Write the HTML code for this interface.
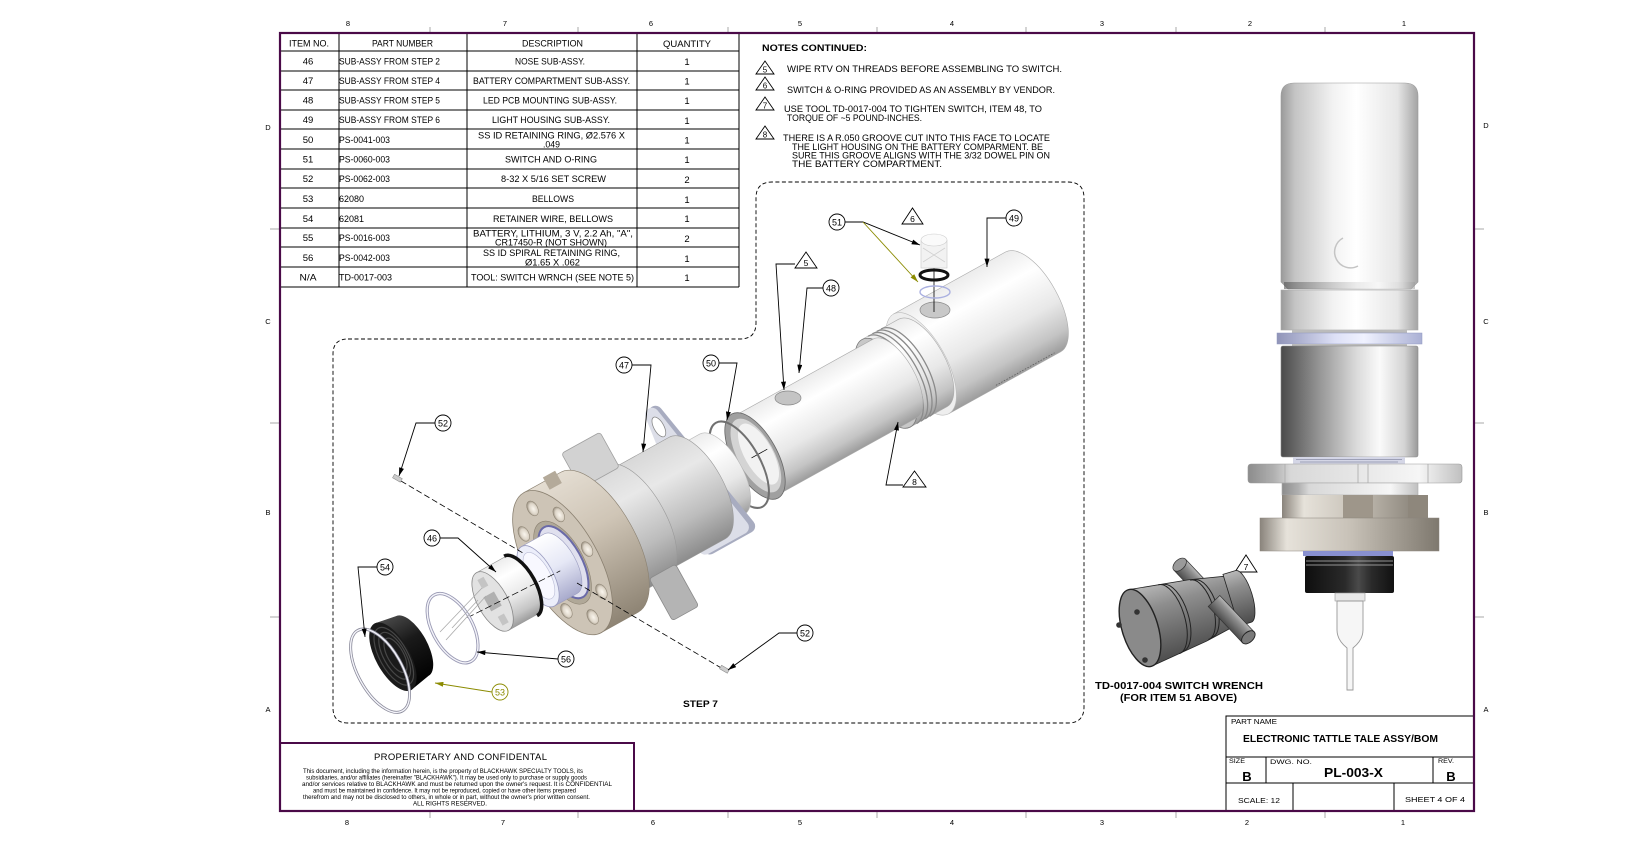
<!DOCTYPE html>
<html><head><meta charset="utf-8"><style>
html,body{margin:0;padding:0;background:#fff;}
svg{display:block;}
text{font-family:"Liberation Sans",Arial,sans-serif;fill:#000;}
.t{font-size:9.5px;}
.n{font-size:9.5px;}
.b{font-weight:bold;}
.z{font-size:7.5px;}
</style></head><body>
<svg width="1644" height="851" viewBox="0 0 1644 851" xmlns="http://www.w3.org/2000/svg">
<defs>
<linearGradient id="gCap" x1="0" y1="0" x2="1" y2="0">
<stop offset="0" stop-color="#9a9a9a"/><stop offset="0.1" stop-color="#c4c4c4"/><stop offset="0.38" stop-color="#f2f2f2"/><stop offset="0.55" stop-color="#ffffff"/><stop offset="0.85" stop-color="#e6e6e6"/><stop offset="1" stop-color="#a4a4a4"/>
</linearGradient>
<linearGradient id="gLow" x1="0" y1="0" x2="1" y2="0">
<stop offset="0" stop-color="#4a4a4a"/><stop offset="0.25" stop-color="#8e8e8e"/><stop offset="0.55" stop-color="#dadada"/><stop offset="0.72" stop-color="#fafafa"/><stop offset="0.9" stop-color="#d4d4d4"/><stop offset="1" stop-color="#9a9a9a"/>
</linearGradient>
<linearGradient id="gBlue" x1="0" y1="0" x2="1" y2="0">
<stop offset="0" stop-color="#9094b8"/><stop offset="0.4" stop-color="#dde0f6"/><stop offset="0.6" stop-color="#f0f2ff"/><stop offset="1" stop-color="#aab0d4"/>
</linearGradient>
<linearGradient id="gHex" x1="0" y1="0" x2="1" y2="0">
<stop offset="0" stop-color="#8c8c8c"/><stop offset="0.12" stop-color="#b0b0b0"/><stop offset="0.2" stop-color="#d8d8d8"/><stop offset="0.5" stop-color="#e6e6e6"/><stop offset="0.8" stop-color="#f6f6f6"/><stop offset="1" stop-color="#c0c0c0"/>
</linearGradient>
<linearGradient id="gTan" x1="0" y1="0" x2="1" y2="0">
<stop offset="0" stop-color="#8a847c"/><stop offset="0.15" stop-color="#e6e2da"/><stop offset="0.5" stop-color="#c8c2b8"/><stop offset="1" stop-color="#7e786e"/>
</linearGradient>
<linearGradient id="gBlk" x1="0" y1="0" x2="1" y2="0">
<stop offset="0" stop-color="#0e0e0e"/><stop offset="0.45" stop-color="#2a2a2a"/><stop offset="0.6" stop-color="#4a4a4a"/><stop offset="0.75" stop-color="#2a2a2a"/><stop offset="1" stop-color="#111"/>
</linearGradient>
<linearGradient id="gW" x1="0" y1="0" x2="0" y2="1">
<stop offset="0" stop-color="#ececec"/><stop offset="0.25" stop-color="#ffffff"/><stop offset="0.6" stop-color="#e8e8e8"/><stop offset="0.85" stop-color="#c4c4c4"/><stop offset="1" stop-color="#9c9c9c"/>
</linearGradient>
<linearGradient id="gG" x1="0" y1="0" x2="0" y2="1">
<stop offset="0" stop-color="#d8d8d8"/><stop offset="0.3" stop-color="#e8e8e8"/><stop offset="0.7" stop-color="#bcbcbc"/><stop offset="1" stop-color="#8c8c8c"/>
</linearGradient>
<linearGradient id="gT" x1="0" y1="0" x2="0" y2="1">
<stop offset="0" stop-color="#e4ddd2"/><stop offset="0.4" stop-color="#cfc5b6"/><stop offset="1" stop-color="#8e8474"/>
</linearGradient>
<linearGradient id="gL" x1="0" y1="0" x2="0" y2="1">
<stop offset="0" stop-color="#ffffff"/><stop offset="0.5" stop-color="#e6e8f6"/><stop offset="1" stop-color="#a8aacc"/>
</linearGradient>
<linearGradient id="gK" x1="0" y1="0" x2="0" y2="1">
<stop offset="0" stop-color="#4a4a4a"/><stop offset="0.4" stop-color="#1a1a1a"/><stop offset="1" stop-color="#000"/>
</linearGradient>
<linearGradient id="gWr" x1="0" y1="0" x2="0" y2="1">
<stop offset="0" stop-color="#b8b8b8"/><stop offset="0.3" stop-color="#8e8e8e"/><stop offset="1" stop-color="#4c4c4c"/>
</linearGradient>
<radialGradient id="gHole" cx="0.55" cy="0.55" r="0.6">
<stop offset="0" stop-color="#faf6ee"/><stop offset="0.6" stop-color="#ddd5c8"/><stop offset="1" stop-color="#8a8070"/>
</radialGradient>
<marker id="ah" viewBox="0 0 10 6" refX="10" refY="3" markerWidth="9" markerHeight="5" orient="auto" markerUnits="userSpaceOnUse"><path d="M0,0 L10,3 L0,6 z" fill="#000"/></marker>
<marker id="ao" viewBox="0 0 10 6" refX="10" refY="3" markerWidth="9" markerHeight="5" orient="auto" markerUnits="userSpaceOnUse"><path d="M0,0 L10,3 L0,6 z" fill="#8b8b00"/></marker>
</defs>

<rect width="1644" height="851" fill="#fff"/>

<!-- zone numbers / ticks -->
<g class="z" text-anchor="middle">
<text x="348" y="26">8</text><text x="505" y="26">7</text><text x="651" y="26">6</text><text x="800" y="26">5</text><text x="952" y="26">4</text><text x="1102" y="26">3</text><text x="1250" y="26">2</text><text x="1404" y="26">1</text>
<text x="347" y="825">8</text><text x="503" y="825">7</text><text x="653" y="825">6</text><text x="800" y="825">5</text><text x="952" y="825">4</text><text x="1102" y="825">3</text><text x="1247" y="825">2</text><text x="1403" y="825">1</text>
<text x="268" y="130">D</text><text x="268" y="324">C</text><text x="268" y="515">B</text><text x="268" y="712">A</text>
<text x="1486" y="128">D</text><text x="1486" y="324">C</text><text x="1486" y="515">B</text><text x="1486" y="712">A</text>
</g>
<g stroke="#a8a8a8" stroke-width="1">
<path d="M430,27V33M578,27V33M728,27V33M877,27V33M1026,27V33M1176,27V33M1325,27V33"/>
<path d="M430,811V818M578,811V818M728,811V818M877,811V818M1026,811V818M1176,811V818M1325,811V818"/>
<path d="M270,229H280M270,423H280M270,617H280M1474,229H1484M1474,423H1484M1474,617H1484"/>
</g>

<!-- BOM table -->
<g stroke="#000" stroke-width="1" fill="none">
<path d="M339,33V287M467,33V287M637,33V287M739,33V287M281,287H739"/>
<path d="M281,51H739M281,71H739M281,90H739M281,110H739M281,129H739M281,149H739M281,169H739M281,188H739M281,208H739M281,228H739M281,247H739M281,267H739"/>
</g>
<g class="t">
<text x="289" y="46.5" textLength="40" lengthAdjust="spacingAndGlyphs">ITEM NO.</text>
<text x="372" y="46.5" textLength="61" lengthAdjust="spacingAndGlyphs">PART NUMBER</text>
<text x="522" y="46.5" textLength="61" lengthAdjust="spacingAndGlyphs">DESCRIPTION</text>
<text x="663" y="47" textLength="48" lengthAdjust="spacingAndGlyphs">QUANTITY</text>
</g>
<g class="t" text-anchor="middle">
<text x="308" y="64.5">46</text><text x="308" y="84">47</text><text x="308" y="103.5">48</text><text x="308" y="123">49</text><text x="308" y="143">50</text><text x="308" y="162.5">51</text><text x="308" y="182">52</text><text x="308" y="202">53</text><text x="308" y="222">54</text><text x="308" y="241">55</text><text x="308" y="261">56</text><text x="308" y="280.5" textLength="17" lengthAdjust="spacingAndGlyphs">N/A</text>
<text x="687" y="65">1</text><text x="687" y="84.5">1</text><text x="687" y="104">1</text><text x="687" y="124">1</text><text x="687" y="143.5">1</text><text x="687" y="163">1</text><text x="687" y="183">2</text><text x="687" y="203">1</text><text x="687" y="222">1</text><text x="687" y="242">2</text><text x="687" y="262">1</text><text x="687" y="281">1</text>
</g>
<g class="t">
<text x="339" y="64.5" textLength="101" lengthAdjust="spacingAndGlyphs">SUB-ASSY FROM STEP 2</text>
<text x="339" y="84" textLength="101" lengthAdjust="spacingAndGlyphs">SUB-ASSY FROM STEP 4</text>
<text x="339" y="103.5" textLength="101" lengthAdjust="spacingAndGlyphs">SUB-ASSY FROM STEP 5</text>
<text x="339" y="123" textLength="101" lengthAdjust="spacingAndGlyphs">SUB-ASSY FROM STEP 6</text>
<text x="339" y="143" textLength="51" lengthAdjust="spacingAndGlyphs">PS-0041-003</text>
<text x="339" y="162.5" textLength="51" lengthAdjust="spacingAndGlyphs">PS-0060-003</text>
<text x="339" y="182" textLength="51" lengthAdjust="spacingAndGlyphs">PS-0062-003</text>
<text x="339" y="202" textLength="25" lengthAdjust="spacingAndGlyphs">62080</text>
<text x="339" y="222" textLength="25" lengthAdjust="spacingAndGlyphs">62081</text>
<text x="339" y="241" textLength="51" lengthAdjust="spacingAndGlyphs">PS-0016-003</text>
<text x="339" y="261" textLength="51" lengthAdjust="spacingAndGlyphs">PS-0042-003</text>
<text x="339" y="280.5" textLength="53" lengthAdjust="spacingAndGlyphs">TD-0017-003</text>
<text x="515" y="64.5" textLength="70" lengthAdjust="spacingAndGlyphs">NOSE SUB-ASSY.</text>
<text x="473" y="84" textLength="157" lengthAdjust="spacingAndGlyphs">BATTERY COMPARTMENT SUB-ASSY.</text>
<text x="483" y="103.5" textLength="134" lengthAdjust="spacingAndGlyphs">LED PCB MOUNTING SUB-ASSY.</text>
<text x="492" y="123" textLength="118" lengthAdjust="spacingAndGlyphs">LIGHT HOUSING SUB-ASSY.</text>
<text x="478" y="138.5" textLength="147" lengthAdjust="spacingAndGlyphs">SS ID RETAINING RING,  Ø2.576 X</text>
<text x="543" y="147.5" textLength="17" lengthAdjust="spacingAndGlyphs">.049</text>
<text x="505" y="162.5" textLength="92" lengthAdjust="spacingAndGlyphs">SWITCH AND O-RING</text>
<text x="501" y="182" textLength="105" lengthAdjust="spacingAndGlyphs">8-32 X 5/16 SET SCREW</text>
<text x="532" y="202" textLength="42" lengthAdjust="spacingAndGlyphs">BELLOWS</text>
<text x="493" y="222" textLength="120" lengthAdjust="spacingAndGlyphs">RETAINER WIRE, BELLOWS</text>
<text x="473" y="236.5" textLength="160" lengthAdjust="spacingAndGlyphs">BATTERY, LITHIUM, 3 V, 2.2 Ah, "A",</text>
<text x="495" y="245.5" textLength="112" lengthAdjust="spacingAndGlyphs">CR17450-R (NOT SHOWN)</text>
<text x="483" y="256" textLength="137" lengthAdjust="spacingAndGlyphs">SS ID SPIRAL RETAINING RING,</text>
<text x="525" y="265.5" textLength="55" lengthAdjust="spacingAndGlyphs">Ø1.65 X .062</text>
<text x="471" y="280.5" textLength="163" lengthAdjust="spacingAndGlyphs">TOOL: SWITCH WRNCH (SEE NOTE 5)</text>
</g>

<!-- notes -->
<g class="n">
<text x="762" y="51" class="b" textLength="105" lengthAdjust="spacingAndGlyphs">NOTES CONTINUED:</text>
<text x="787" y="72" textLength="275" lengthAdjust="spacingAndGlyphs">WIPE RTV ON THREADS BEFORE ASSEMBLING TO SWITCH.</text>
<text x="787" y="93" textLength="268" lengthAdjust="spacingAndGlyphs">SWITCH &amp; O-RING  PROVIDED AS AN ASSEMBLY BY VENDOR.</text>
<text x="784" y="112" textLength="258" lengthAdjust="spacingAndGlyphs">USE TOOL TD-0017-004 TO TIGHTEN SWITCH, ITEM 48, TO</text>
<text x="787" y="121" textLength="135" lengthAdjust="spacingAndGlyphs">TORQUE OF ~5 POUND-INCHES.</text>
<text x="783" y="141" textLength="267" lengthAdjust="spacingAndGlyphs">THERE IS A R.050 GROOVE CUT INTO THIS FACE TO LOCATE</text>
<text x="792" y="150" textLength="251" lengthAdjust="spacingAndGlyphs">THE LIGHT HOUSING ON THE BATTERY COMPARMENT.  BE</text>
<text x="792" y="158.5" textLength="258" lengthAdjust="spacingAndGlyphs">SURE THIS GROOVE ALIGNS WITH THE 3/32 DOWEL PIN ON</text>
<text x="792" y="167" textLength="150" lengthAdjust="spacingAndGlyphs">THE BATTERY COMPARTMENT.</text>
</g>
<g fill="none" stroke="#000" stroke-width="0.9">
<path d="M756,74 L765,61 L774,74 Z"/>
<path d="M756,90 L765,77 L774,90 Z"/>
<path d="M756,110 L765,97 L774,110 Z"/>
<path d="M756,139 L765,126 L774,139 Z"/>
</g>
<g font-size="8" text-anchor="middle">
<text x="765" y="72.5">5</text><text x="765" y="88.5">6</text><text x="765" y="108.5">7</text><text x="765" y="137.5">8</text>
</g>

<!-- dashed step boundary -->
<path d="M348,339 L740,339 Q756,339 756,323 L756,198 Q756,182 772,182 L1068,182 Q1084,182 1084,198 L1084,707 Q1084,723 1068,723 L348,723 Q333,723 333,708 L333,354 Q333,339 348,339 Z" fill="none" stroke="#000" stroke-width="0.9" stroke-dasharray="4 2.5"/>

<!-- exploded assembly -->
<g transform="translate(755,456) rotate(-29)">
 <!-- housing 49 -->
 <path d="M190,-57 L318,-57 A25,57 0 0 1 318,57 L190,57 Z" fill="url(#gW)" stroke="#aaa" stroke-width="0.6"/>
 <ellipse cx="190" cy="0" rx="25" ry="57" fill="#eeeeee" stroke="#bbb" stroke-width="0.6"/>
 <line x1="245" y1="55" x2="312" y2="55" stroke="#555" stroke-width="0.7" stroke-dasharray="1.5 1.5"/>
 <path d="M150,-50 L192,-50 A22,50 0 0 1 192,50 L150,50 Z" fill="url(#gW)" stroke="#aaa" stroke-width="0.6"/>
 <g fill="none" stroke="#8a8a8a" stroke-width="1.3">
  <path d="M157,-50 A22,50 0 0 1 157,50"/><path d="M162,-50 A22,50 0 0 1 162,50"/><path d="M167,-50 A22,50 0 0 1 167,50"/><path d="M172,-50 A22,50 0 0 1 172,50"/>
 </g>
 <ellipse cx="150" cy="0" rx="22" ry="50" fill="#c8c8c8" stroke="#777" stroke-width="0.8"/>
 <ellipse cx="151" cy="0" rx="18" ry="44" fill="#efefef" stroke="#999" stroke-width="0.6"/>
 <!-- tube 48 -->
 <path d="M0,-45 L160,-45 A20,45 0 0 1 160,45 L0,45 Z" fill="url(#gW)" stroke="#aaa" stroke-width="0.6"/>
 <ellipse cx="0" cy="0" rx="22" ry="48" fill="#a0a0a0" stroke="#666" stroke-width="0.8"/>
 <ellipse cx="1" cy="0" rx="18" ry="41" fill="#d4d4d4"/>
 <ellipse cx="4" cy="0" rx="14" ry="34" fill="#f2f2f2"/>
 <line x1="-4" y1="0" x2="14" y2="0" stroke="#000" stroke-width="0.7"/>
 <!-- ring 50 -->
 <ellipse cx="-18" cy="0" rx="21" ry="48" fill="none" stroke="#707070" stroke-width="2"/>
 <!-- collar -->
 <path d="M-62,-46 L-38,-46 A21,46 0 0 1 -38,46 L-62,46 Z" fill="url(#gW)" stroke="#bbb" stroke-width="0.6"/>
 <!-- plate -->
 <path d="M-66,-86 L-40,58 L-84,58 Z" fill="#a8acc0" stroke="#a8acc0" stroke-width="14" stroke-linejoin="round"/>
 <path d="M-70,-86 L-46,56 L-88,56 Z" fill="#dcdee8" stroke="#dcdee8" stroke-width="14" stroke-linejoin="round"/>
 <ellipse cx="-70" cy="-72" rx="5" ry="11" fill="#fff" stroke="#888" stroke-width="0.8"/>
 <!-- body 47 -->
 <path d="M-140,-58 L-66,-58 A26,58 0 0 1 -66,58 L-140,58 Z" fill="url(#gG)" stroke="#999" stroke-width="0.6"/>
 <!-- lug ring -->
 <path d="M-178,-64 L-135,-64 A29,64 0 0 1 -135,64 L-178,64 Z" fill="url(#gG)" stroke="#999" stroke-width="0.6"/>
 <rect x="-168" y="-96" width="44" height="40" rx="3" fill="#d2d2d2" stroke="#a0a0a0" stroke-width="0.8"/>
 <rect x="-152" y="56" width="30" height="48" rx="3" fill="#b4b4b4" stroke="#8a8a8a" stroke-width="0.8"/>
 <!-- tan nut -->
 <path d="M-220,-80 L-178,-80 A36,80 0 0 1 -178,80 L-220,80 Z" fill="url(#gT)" stroke="#8a8070" stroke-width="0.6"/>
 <rect x="-196" y="-84" width="14" height="14" fill="#b4aa9a"/>
 <ellipse cx="-220" cy="0" rx="36" ry="80" fill="#cdc4b6" stroke="#8a8070" stroke-width="0.8"/>
 <g fill="url(#gHole)" stroke="#8a8070" stroke-width="0.5">
  <ellipse cx="-192" cy="0" rx="5" ry="8"/><ellipse cx="-200" cy="44" rx="5" ry="8"/><ellipse cx="-220" cy="62" rx="5" ry="8"/><ellipse cx="-240" cy="44" rx="5" ry="8"/>
  <ellipse cx="-248" cy="0" rx="5" ry="8"/><ellipse cx="-240" cy="-44" rx="5" ry="8"/><ellipse cx="-220" cy="-62" rx="5" ry="8"/><ellipse cx="-200" cy="-44" rx="5" ry="8"/>
 </g>
 <ellipse cx="-220" cy="0" rx="21" ry="46" fill="#b0a898" stroke="#8a8070" stroke-width="0.6"/>
 <ellipse cx="-219" cy="0" rx="18" ry="40" fill="#e0e0ee" stroke="#6a6aa8" stroke-width="2"/>
 <!-- protrusion -->
 <path d="M-248,-34 L-222,-34 A15,34 0 0 1 -222,34 L-248,34 Z" fill="url(#gL)" stroke="#9a9cc0" stroke-width="0.6"/>
 <ellipse cx="-248" cy="0" rx="15" ry="34" fill="#eceefa" stroke="#9a9cc0" stroke-width="0.8"/>
 <ellipse cx="-247" cy="0" rx="11" ry="26" fill="#f8f8ff" stroke="#b8bad4" stroke-width="0.6"/>
 <!-- nose 46 -->
 <path d="M-300,-33 L-268,-33 A15,33 0 0 1 -268,33 L-300,33 Z" fill="url(#gW)" stroke="#999" stroke-width="0.6"/>
 <path d="M-268,-34 A15,34 0 0 1 -268,34" fill="none" stroke="#111" stroke-width="3.5"/>
 <ellipse cx="-300" cy="0" rx="15" ry="33" fill="#e2e2e2" stroke="#888" stroke-width="0.8"/>
 <rect x="-306" y="-8" width="12" height="16" fill="#b0b0b0"/>
 <rect x="-303" y="-26" width="7" height="10" fill="#c4c4c4"/>
 <rect x="-303" y="16" width="7" height="10" fill="#c4c4c4"/>
 <!-- axis line -->
 <line x1="-330" y1="2" x2="-226" y2="6" stroke="#000" stroke-width="0.7" stroke-dasharray="7 3"/>
 <!-- ring 56 -->
 <ellipse cx="-348" cy="4" rx="20" ry="38" fill="none" stroke="#9a9ab4" stroke-width="3.2"/>
 <ellipse cx="-348" cy="4" rx="20" ry="38" fill="none" stroke="#f4f4fa" stroke-width="1.4"/>
 <!-- bellows 53 -->
 <path d="M-414,-38 L-392,-34 A15,34 0 0 1 -392,34 L-414,38 Z" fill="url(#gK)"/>
 <ellipse cx="-414" cy="0" rx="17" ry="38" fill="#1a1a1a"/>
 <g fill="none" stroke="#464646" stroke-width="1.2">
  <ellipse cx="-413" cy="0" rx="14" ry="32"/><ellipse cx="-412" cy="0" rx="11" ry="26"/><ellipse cx="-411" cy="0" rx="8" ry="19"/>
 </g>
 <!-- ring 54 -->
 <ellipse cx="-432" cy="6" rx="22" ry="46" fill="none" stroke="#8a8a9a" stroke-width="3"/>
 <ellipse cx="-432" cy="6" rx="22" ry="46" fill="none" stroke="#f4f4fa" stroke-width="1.4"/>
</g>

<!-- set-screw dashed line (visible segments) -->
<line x1="401" y1="481" x2="523" y2="553" stroke="#000" stroke-width="0.8" stroke-dasharray="6 3"/>
<line x1="577" y1="583" x2="723" y2="669" stroke="#000" stroke-width="0.8" stroke-dasharray="6 3"/>

<!-- wires from nose -->
<g stroke="#aaa" stroke-width="0.8">
<line x1="482" y1="588" x2="440" y2="632"/><line x1="486" y1="596" x2="446" y2="640"/><line x1="478" y1="600" x2="452" y2="628"/>
</g>

<!-- holes on tube / housing -->
<ellipse cx="788" cy="398" rx="13" ry="7" fill="#c4c4c4" stroke="#888" stroke-width="0.7"/>
<ellipse cx="935" cy="310" rx="15" ry="8" fill="#c8c8c8" stroke="#888" stroke-width="0.7"/>

<!-- switch 51 -->
<line x1="934" y1="262" x2="934" y2="312" stroke="#000" stroke-width="0.8"/>
<rect x="921" y="240" width="26" height="28" fill="#f2f2f2" stroke="#c8c8c8" stroke-width="0.6"/>
<ellipse cx="934" cy="240" rx="13" ry="6" fill="#fafafa" stroke="#ccc" stroke-width="0.6"/>
<path d="M923,248 L945,262 M945,248 L923,262" stroke="#d0d0d0" stroke-width="0.8"/>
<ellipse cx="934" cy="275" rx="14" ry="5" fill="none" stroke="#111" stroke-width="3"/>
<ellipse cx="935" cy="292" rx="15" ry="6" fill="none" stroke="#aab0e0" stroke-width="1.4"/>

<!-- set screws -->
<rect x="393" y="476" width="9" height="4" fill="#ccc" stroke="#888" stroke-width="0.5" transform="rotate(30 397 478)"/>
<rect x="720" y="667" width="9" height="4" fill="#ccc" stroke="#888" stroke-width="0.5" transform="rotate(30 724 669)"/>

<!-- leaders -->
<g fill="none" stroke="#000" stroke-width="0.9">
<polyline points="632,365 651,365 643,452" marker-end="url(#ah)"/>
<polyline points="719,363 737,363 727,420" marker-end="url(#ah)"/>
<polyline points="435,423 416,423 399,476" marker-end="url(#ah)"/>
<polyline points="440,538 458,538 496,572" marker-end="url(#ah)"/>
<polyline points="377,567 358,567 365,637" marker-end="url(#ah)"/>
<polyline points="558,659 477,652" marker-end="url(#ah)"/>
<polyline points="797,633 779,633 728,670" marker-end="url(#ah)"/>
<polyline points="845,222 863,222 920,245" marker-end="url(#ah)"/>
<polyline points="1006,218 987,218 987,267" marker-end="url(#ah)"/>
<polyline points="795,264 776,264 784,390" marker-end="url(#ah)"/>
<polyline points="823,288 807,288 799,373" marker-end="url(#ah)"/>
<polyline points="903,485 886,485 898,422" marker-end="url(#ah)"/>
</g>
<g fill="none" stroke="#8b8b00" stroke-width="0.9">
<polyline points="863,222 918,282" marker-end="url(#ao)"/>
<polyline points="492,692 435,683" marker-end="url(#ao)"/>
</g>
<!-- balloons -->
<g fill="#fff" stroke="#000" stroke-width="0.9">
<circle cx="624" cy="365" r="8"/><circle cx="711" cy="363" r="8"/><circle cx="443" cy="423" r="8"/><circle cx="432" cy="538" r="8"/><circle cx="385" cy="567" r="8"/><circle cx="566" cy="659" r="8"/><circle cx="805" cy="633" r="8"/><circle cx="837" cy="222" r="8"/><circle cx="1014" cy="218" r="8"/><circle cx="831" cy="288" r="8"/>
</g>
<circle cx="500" cy="692" r="8" fill="#fff" stroke="#8b8b00" stroke-width="0.9"/>
<g font-size="9" text-anchor="middle">
<text x="624" y="368.5">47</text><text x="711" y="366.5">50</text><text x="443" y="426.5">52</text><text x="432" y="541.5">46</text><text x="385" y="570.5">54</text><text x="566" y="662.5">56</text><text x="805" y="636.5">52</text><text x="837" y="225.5">51</text><text x="1014" y="221.5">49</text><text x="831" y="291.5">48</text>
<text x="500" y="695.5" style="fill:#8b8b00">53</text>
</g>
<!-- leader triangles -->
<g fill="#fff" stroke="#000" stroke-width="0.9">
<path d="M795,268 L806,252 L817,268 Z"/>
<path d="M902,224 L912.5,208 L923,224 Z"/>
<path d="M903,487 L914.5,471 L926,487 Z"/>
<path d="M1235,572 L1246,555 L1257,572 Z"/>
</g>
<g font-size="8.5" text-anchor="middle">
<text x="806" y="266">5</text><text x="912.5" y="222">6</text><text x="914.5" y="485">8</text><text x="1246" y="570">7</text>
</g>
<text x="683" y="707" font-size="9.5" class="b" textLength="35" lengthAdjust="spacingAndGlyphs">STEP 7</text>

<!-- right vertical assembly -->
<path d="M1281,96 Q1281,83 1294,83 L1405,83 Q1418,83 1418,96 L1418,282 L1411,289 L1288,289 L1281,282 Z" fill="url(#gCap)" stroke="#9a9a9a" stroke-width="0.6"/>
<rect x="1284" y="282" width="131" height="7" fill="url(#gLow)" opacity="0.55"/>
<path d="M1343,238 A13,13 0 0 0 1358,266" stroke="#c4c4c4" stroke-width="1.5" fill="none"/>
<rect x="1281" y="290" width="137" height="40" fill="url(#gCap)" stroke="#a8a8a8" stroke-width="0.6"/>
<rect x="1292" y="330" width="115" height="3" fill="#bbb"/>
<rect x="1277" y="333" width="145" height="11" fill="url(#gBlue)" stroke="#9098c0" stroke-width="0.5"/>
<rect x="1292" y="344" width="115" height="2" fill="#bbb"/>
<rect x="1281" y="346" width="137" height="111" rx="2" fill="url(#gLow)" stroke="#888" stroke-width="0.6"/>
<rect x="1293" y="457" width="112" height="7" fill="#d4d6e6"/>
<path d="M1296,459.5H1402M1300,462H1398" stroke="#8a8ea8" stroke-width="0.8"/>
<rect x="1248" y="464" width="214" height="19" rx="3" fill="url(#gHex)" stroke="#999" stroke-width="0.6"/>
<path d="M1267,464V483M1285,464V483M1358,464V483M1368,464V483M1428,464V483" stroke="#aaa" stroke-width="0.8"/>
<rect x="1282" y="483" width="136" height="12" fill="url(#gHex)" stroke="#aaa" stroke-width="0.6"/>
<rect x="1282" y="495" width="146" height="23" fill="url(#gTan)"/>
<rect x="1343" y="495" width="30" height="23" fill="#9e968a"/>
<rect x="1408" y="495" width="20" height="23" fill="#8e877c"/>
<rect x="1260" y="518" width="179" height="33" fill="url(#gTan)" stroke="#8a847c" stroke-width="0.5"/>
<rect x="1303" y="551" width="90" height="5" fill="#8890d0"/>
<rect x="1305" y="556" width="89" height="37" rx="2" fill="url(#gBlk)"/>
<path d="M1306,561H1393M1306,565H1393" stroke="#bbb" stroke-width="0.8"/>
<rect x="1335" y="593" width="30" height="8" fill="#e8e8e8" stroke="#999" stroke-width="0.6"/>
<path d="M1337,601 L1337,630 Q1337,640 1347,648 L1347,690 L1353,690 L1353,648 Q1363,640 1363,630 L1363,601 Z" fill="#f6f6f6" stroke="#999" stroke-width="0.9"/>

<!-- wrench -->
<g transform="translate(1214,601) rotate(46.6)">
 <rect x="-50" y="-8" width="50" height="16" fill="url(#gWr)" stroke="#333" stroke-width="0.7"/>
 <ellipse cx="-50" cy="0" rx="5" ry="8" fill="#9a9a9a" stroke="#333" stroke-width="0.7"/>
</g>
<g transform="translate(1140,628) rotate(-17)">
 <path d="M0,-40 L60,-32 L100,-24 L100,24 L60,32 L0,40 Z" fill="url(#gWr)" stroke="#222" stroke-width="0.8"/>
 <path d="M30,-36 A16,36 0 0 1 30,36 M34,-35 A16,35 0 0 1 34,35 M62,-31 A14,31 0 0 1 62,31 M66,-30 A14,30 0 0 1 66,30" fill="none" stroke="#222" stroke-width="1"/>
 <path d="M95,-27 L108,-27 A9,27 0 0 1 108,27 L95,27 Z" fill="url(#gWr)" stroke="#222" stroke-width="0.8"/>
 <ellipse cx="0" cy="0" rx="18" ry="40" fill="#8a8a8a" stroke="#222" stroke-width="1.4"/>
</g>
<g transform="translate(1214,601) rotate(46.6)">
 <rect x="0" y="-8" width="50" height="16" fill="url(#gWr)" stroke="#333" stroke-width="0.7"/>
 <ellipse cx="50" cy="0" rx="5" ry="8" fill="#7a7a7a" stroke="#222" stroke-width="0.9"/>
</g>
<g fill="#333"><circle cx="1137" cy="612" r="2.8"/><circle cx="1119" cy="625" r="2.8"/><circle cx="1145" cy="660" r="2.8"/></g>
<text x="1095" y="689" font-size="10" class="b" textLength="168" lengthAdjust="spacingAndGlyphs">TD-0017-004 SWITCH WRENCH</text>
<text x="1120" y="701" font-size="10" class="b" textLength="117" lengthAdjust="spacingAndGlyphs">(FOR ITEM 51 ABOVE)</text>

<!-- title block -->
<g fill="none" stroke="#000" stroke-width="1">
<rect x="1226" y="716" width="248" height="95"/>
<path d="M1226,757H1474M1226,783H1474M1266,757V783M1433,757V783M1293,783V811M1394,783V811"/>
</g>
<text x="1231" y="724" font-size="7" textLength="46" lengthAdjust="spacingAndGlyphs">PART NAME</text>
<text x="1243" y="742" font-size="10" class="b" textLength="195" lengthAdjust="spacingAndGlyphs">ELECTRONIC TATTLE TALE ASSY/BOM</text>
<text x="1229" y="763" font-size="6.5" textLength="16" lengthAdjust="spacingAndGlyphs">SIZE</text>
<text x="1247" y="781" font-size="13" class="b" text-anchor="middle">B</text>
<text x="1270" y="764" font-size="6.5" textLength="42" lengthAdjust="spacingAndGlyphs">DWG. NO.</text>
<text x="1324" y="777" font-size="13" class="b" textLength="59" lengthAdjust="spacingAndGlyphs">PL-003-X</text>
<text x="1438" y="763" font-size="6.5" textLength="16" lengthAdjust="spacingAndGlyphs">REV.</text>
<text x="1451" y="781" font-size="13" class="b" text-anchor="middle">B</text>
<text x="1238" y="803" font-size="7" textLength="42" lengthAdjust="spacingAndGlyphs">SCALE: 12</text>
<text x="1405" y="802" font-size="7" textLength="60" lengthAdjust="spacingAndGlyphs">SHEET 4 OF 4</text>

<!-- proprietary box -->
<path d="M280,743H634V811" fill="none" stroke="#4a0a48" stroke-width="2"/>
<text x="374" y="760" font-size="9.5" textLength="173" lengthAdjust="spacing">PROPERIETARY AND CONFIDENTAL</text>
<g font-size="6">
<text x="303" y="773" textLength="280" lengthAdjust="spacingAndGlyphs">This document, including the information herein, is the property of BLACKHAWK SPECIALTY TOOLS, its</text>
<text x="306" y="779.5" textLength="281" lengthAdjust="spacingAndGlyphs">subsidiaries, and/or affiliates (hereinafter "BLACKHAWK").  It may be used only to purchase or supply goods</text>
<text x="302" y="786" textLength="310" lengthAdjust="spacingAndGlyphs">and/or services relative to BLACKHAWK and must be returned upon the owner's request.  It is CONFIDENTIAL</text>
<text x="313" y="792.5" textLength="263" lengthAdjust="spacingAndGlyphs">and must be maintained in confidence.  It may not be reproduced, copied or have other items prepared</text>
<text x="303" y="799" textLength="287" lengthAdjust="spacingAndGlyphs">therefrom and may not be disclosed to others, in whole or in part, without the owner's prior written consent.</text>
<text x="413" y="805.5" textLength="74" lengthAdjust="spacingAndGlyphs">ALL RIGHTS RESERVED.</text>
</g>

<!-- frame -->
<rect x="280" y="33" width="1194" height="778" fill="none" stroke="#4a0a48" stroke-width="2.2"/>
</svg>
</body></html>
